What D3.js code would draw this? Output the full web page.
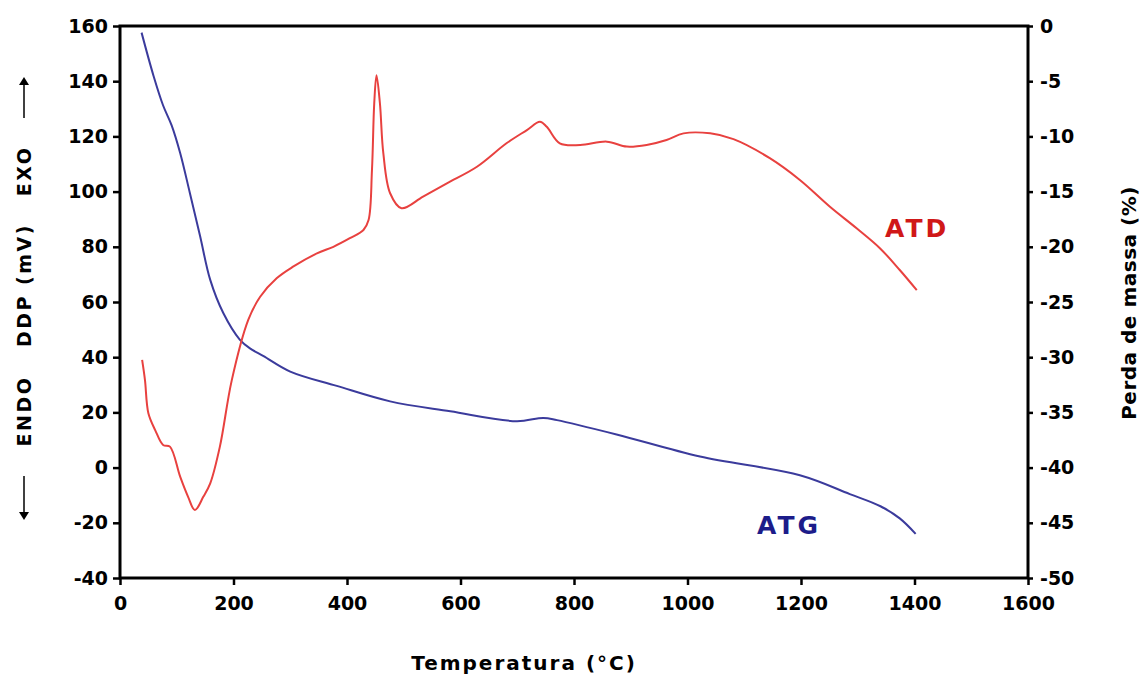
<!DOCTYPE html>
<html>
<head>
<meta charset="utf-8">
<script src="https://cdn.jsdelivr.net/npm/d3@7/dist/d3.min.js"></script>
<style>
  html, body { margin: 0; padding: 0; background: #ffffff; }
  svg { display: block; }
  text { font-family: "DejaVu Sans", Verdana, sans-serif; font-weight: bold; fill: #000; }
</style>
</head>
<body>
<svg id="chart" width="1147" height="677"></svg>
<script>
// Thermal analysis: differential thermal analysis (ATD, mV) and thermogravimetry (ATG, % mass loss)
const atdTemp = [39, 44, 50, 62, 76, 88, 106, 120, 132, 147, 159, 176, 197, 226, 247, 276, 305, 347, 376, 405, 429, 438, 444, 448, 452, 458, 464, 476, 496, 534, 576, 629, 681, 717, 740, 752, 775, 811, 858, 893, 928, 963, 993, 1040, 1081, 1145, 1198, 1251, 1298, 1339, 1374, 1404];
const atdValue = [39, 31.7, 19.7, 13.6, 8.2, 7.6, -3.3, -10.6, -15.4, -10.5, -5.7, 7.6, 31.7, 53.5, 61.9, 68.6, 72.8, 77.6, 80, 83.1, 86.1, 89.7, 107.8, 132, 142.2, 132, 113.9, 99.4, 94, 98.2, 103, 109, 117.5, 122.3, 125.3, 123.5, 117.5, 116.9, 118.1, 116.3, 116.9, 118.7, 121.1, 121.1, 119, 112.1, 104.2, 94.5, 86.7, 79.5, 71.6, 64.3];

const atgTemp = [38, 59, 76, 91, 106, 123, 141, 159, 182, 211, 229, 253, 300, 382, 476, 582, 699, 746, 770, 875, 1022, 1198, 1286, 1340, 1374, 1402];
const atgValue = [-0.6, -4.5, -7.2, -9.0, -11.5, -15.1, -19.0, -23.0, -26.0, -28.4, -29.2, -29.9, -31.3, -32.6, -34.0, -34.9, -35.8, -35.5, -35.7, -37.0, -39.0, -40.7, -42.4, -43.5, -44.6, -46.0];

const xTicks = [0, 200, 400, 600, 800, 1000, 1200, 1400, 1600];
const leftTicks = [160, 140, 120, 100, 80, 60, 40, 20, 0, -20, -40];
const rightTicks = [0, -5, -10, -15, -20, -25, -30, -35, -40, -45, -50];

const xTitle = "Temperatura (°C)";
const rightTitle = "Perda de massa (%)";
const leftTitleParts = ["ENDO", "DDP (mV)", "EXO"];
const atdLabel = "ATD";
const atgLabel = "ATG";

const svg = d3.select("#chart");
const plot = { left: 120, right: 1028, top: 26, bottom: 578 };

const x = d3.scaleLinear().domain([0, 1600]).range([plot.left, plot.right]);
const yL = d3.scaleLinear().domain([-40, 160]).range([plot.bottom, plot.top]);
const yR = d3.scaleLinear().domain([-50, 0]).range([plot.bottom, plot.top]);

const fmt = d => d < 0 ? "-" + Math.abs(d) : String(d);

// Curves
const atd = atdTemp.map((t, i) => [t, atdValue[i]]);
const atg = atgTemp.map((t, i) => [t, atgValue[i]]);

svg.append("path")
  .datum(atg)
  .attr("fill", "none")
  .attr("stroke", "#3b3b9c")
  .attr("stroke-width", 2)
  .attr("d", d3.line().x(d => x(d[0])).y(d => yR(d[1])).curve(d3.curveCatmullRom.alpha(0.5)));

svg.append("path")
  .datum(atd)
  .attr("fill", "none")
  .attr("stroke", "#e8413f")
  .attr("stroke-width", 2)
  .attr("d", d3.line().x(d => x(d[0])).y(d => yL(d[1])).curve(d3.curveCatmullRom.alpha(0.5)));

// Axes
const styleAxis = g => {
  g.select(".domain").remove();
  g.selectAll(".tick line").attr("stroke", "#000").attr("stroke-width", 2.5);
  g.selectAll(".tick text").style("font-family", "'DejaVu Sans', Verdana, sans-serif")
    .style("font-weight", "bold").style("font-size", "19px").attr("fill", "#000");
};

svg.append("g")
  .attr("transform", `translate(0,${plot.bottom})`)
  .call(d3.axisBottom(x).tickValues(xTicks).tickFormat(fmt).tickSize(7).tickPadding(12))
  .call(styleAxis);

svg.append("g")
  .attr("transform", `translate(${plot.left},0)`)
  .call(d3.axisLeft(yL).tickValues(leftTicks).tickFormat(fmt).tickSize(7).tickPadding(5))
  .call(styleAxis);

svg.append("g")
  .attr("transform", `translate(${plot.right},0)`)
  .call(d3.axisRight(yR).tickValues(rightTicks).tickFormat(fmt).tickSize(5).tickPadding(7))
  .call(styleAxis);

// Frame
svg.append("rect")
  .attr("x", plot.left).attr("y", plot.top)
  .attr("width", plot.right - plot.left).attr("height", plot.bottom - plot.top)
  .attr("fill", "none").attr("stroke", "#000").attr("stroke-width", 3);

// Axis titles
svg.append("text")
  .attr("x", 524).attr("y", 670)
  .attr("text-anchor", "middle")
  .style("font-size", "20px").style("letter-spacing", "2px")
  .text(xTitle);

svg.append("text")
  .attr("transform", "translate(1136,303) rotate(-90)")
  .attr("text-anchor", "middle")
  .style("font-size", "20px").style("letter-spacing", "0.5px")
  .text(rightTitle);

// Left title: ENDO / DDP (mV) / EXO with direction arrows
const leftCentres = [411, 285, 171];
leftTitleParts.forEach((s, i) => {
  svg.append("text")
    .attr("transform", `translate(31,${leftCentres[i]}) rotate(-90)`)
    .attr("text-anchor", "middle")
    .style("font-size", "19px").style("letter-spacing", "2.5px")
    .text(s);
});

const arrow = (y1, y2) => {
  const dir = Math.sign(y2 - y1);
  svg.append("line").attr("x1", 24).attr("x2", 24).attr("y1", y1).attr("y2", y2 - dir * 6)
    .attr("stroke", "#000").attr("stroke-width", 1.5);
  svg.append("path")
    .attr("d", `M19,${y2 - dir * 8} L29,${y2 - dir * 8} L24,${y2} Z`)
    .attr("fill", "#000");
};
arrow(118, 77);
arrow(476, 520);

// Series labels
svg.append("text")
  .attr("x", 885).attr("y", 237)
  .style("font-size", "25px").style("letter-spacing", "3px")
  .style("fill", "#d01818")
  .text(atdLabel);

svg.append("text")
  .attr("x", 757).attr("y", 534)
  .style("font-size", "25px").style("letter-spacing", "3px")
  .style("fill", "#1c1c8a")
  .text(atgLabel);
</script>
</body>
</html>
